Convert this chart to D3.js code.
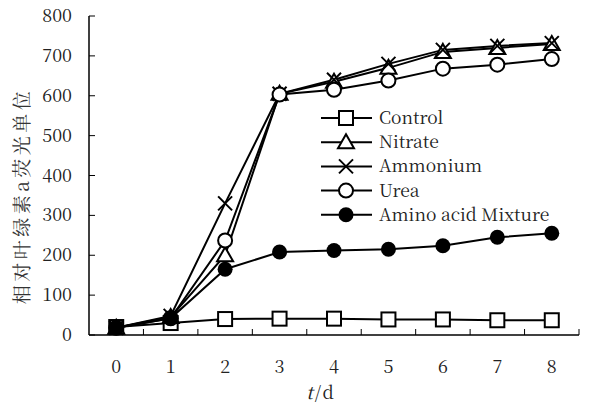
<!DOCTYPE html>
<html>
<head>
<meta charset="utf-8">
<script src="https://cdn.jsdelivr.net/npm/d3@7"></script>
<style>
body { margin: 0; background: #fff; }
</style>
</head>
<body>
<div id="chart"></div>
<script>
var days = [0, 1, 2, 3, 4, 5, 6, 7, 8];
var yTicks = [0, 100, 200, 300, 400, 500, 600, 700, 800];
var seriesNames = ["Control", "Nitrate", "Ammonium", "Urea", "Amino acid Mixture"];
var control  = [20, 30, 40, 41, 41, 39, 39, 37, 37];
var nitrate  = [18, 45, 200, 605, 635, 670, 710, 720, 730];
var ammonium = [18, 48, 330, 605, 640, 680, 715, 725, 732];
var urea     = [18, 42, 237, 603, 615, 638, 668, 678, 692];
var amino    = [18, 42, 165, 208, 212, 215, 224, 245, 255];
var symbols  = ["square", "triangle", "cross", "circle", "dot"];

var SONG = "Noto Serif CJK SC";
var W = 590, H = 403;
var svg = d3.select("#chart").append("svg").attr("width", W).attr("height", H);

var x = d3.scaleBand().domain(days).range([89, 579]);
var y = d3.scaleLinear().domain([0, 800]).range([335, 16]);

// axes, ticks pointing inward
var xAxis = svg.append("g").attr("transform", "translate(0," + y(0) + ")");
xAxis.append("line").attr("x1", 89).attr("x2", 579).attr("stroke", "#000").attr("stroke-width", 1.5);
xAxis.selectAll("line.tk").data(days.slice(1).concat(["end"])).enter().append("line")
    .attr("class", "tk")
    .attr("x1", function(d){ return d === "end" ? 579 : x(d); })
    .attr("x2", function(d){ return d === "end" ? 579 : x(d); })
    .attr("y1", 0).attr("y2", -6).attr("stroke", "#000");
xAxis.selectAll("text").data(days).enter().append("text")
    .attr("x", function(d){ return x(d) + x.bandwidth()/2; })
    .attr("y", 38).attr("text-anchor", "middle")
    .attr("font-family", SONG).attr("font-size", 18).attr("fill", "#222")
    .text(function(d){ return d; });

var yAxis = svg.append("g").attr("transform", "translate(89,0)");
yAxis.append("line").attr("y1", y(0)).attr("y2", y(800)).attr("stroke", "#000").attr("stroke-width", 1.5);
yAxis.selectAll("line.tk").data(yTicks).enter().append("line")
    .attr("class", "tk")
    .attr("y1", function(d){ return y(d); }).attr("y2", function(d){ return y(d); })
    .attr("x1", 0).attr("x2", 6).attr("stroke", "#000");
yAxis.selectAll("text").data(yTicks).enter().append("text")
    .attr("x", -17).attr("y", function(d){ return y(d) + 6; })
    .attr("text-anchor", "end")
    .attr("font-family", SONG).attr("font-size", 18).attr("fill", "#222")
    .text(function(d){ return d; });

svg.append("text")
    .attr("transform", "translate(29,196) rotate(-90)")
    .attr("text-anchor", "middle")
    .attr("font-family", SONG).attr("font-size", 19).attr("letter-spacing", 3.5).attr("fill", "#333")
    .text("相对叶绿素a荧光单位");

var xl = svg.append("text").attr("x", 320).attr("y", 399)
    .attr("text-anchor", "middle").attr("font-family", SONG).attr("font-size", 18).attr("fill", "#222");
xl.append("tspan").attr("font-style", "italic").text("t");
xl.append("tspan").attr("dx", 2).text("/");
xl.append("tspan").attr("dx", 2).text("d");

function drawMarker(g, type) {
    if (type === "square") {
        g.append("rect").attr("x", -7).attr("y", -7).attr("width", 14).attr("height", 14)
            .attr("fill", "#fff").attr("stroke", "#000").attr("stroke-width", 2);
    } else if (type === "triangle") {
        g.append("path").attr("d", "M0,-8L8,6L-8,6Z")
            .attr("fill", "#fff").attr("stroke", "#000").attr("stroke-width", 2);
    } else if (type === "cross") {
        g.append("path").attr("d", "M-7,-7L7,7M-7,7L7,-7")
            .attr("fill", "none").attr("stroke", "#000").attr("stroke-width", 2);
    } else if (type === "circle") {
        g.append("circle").attr("r", 7).attr("fill", "#fff").attr("stroke", "#000").attr("stroke-width", 2);
    } else {
        g.append("circle").attr("r", 7.5).attr("fill", "#000");
    }
}

var allSeries = [control, nitrate, ammonium, urea, amino];
var line = d3.line()
    .x(function(d, i){ return x(days[i]) + x.bandwidth()/2; })
    .y(function(d){ return y(d); });

allSeries.forEach(function(vals) {
    svg.append("path").attr("d", line(vals)).attr("fill", "none")
        .attr("stroke", "#000").attr("stroke-width", 2);
});
allSeries.forEach(function(vals, k) {
    vals.forEach(function(v, i) {
        var g = svg.append("g").attr("transform",
            "translate(" + (x(days[i]) + x.bandwidth()/2) + "," + y(v) + ")");
        drawMarker(g, symbols[k]);
    });
});

// legend
var lg = svg.append("g");
seriesNames.forEach(function(name, k) {
    var ly = 118 + k * 24.2;
    lg.append("line").attr("x1", 321).attr("x2", 372).attr("y1", ly).attr("y2", ly)
        .attr("stroke", "#000").attr("stroke-width", 2);
    drawMarker(lg.append("g").attr("transform", "translate(346," + ly + ")"), symbols[k]);
    lg.append("text").attr("x", 379).attr("y", ly + 6)
        .attr("font-family", SONG).attr("font-size", 17.5).attr("fill", "#222").text(name);
});
</script>
</body>
</html>
